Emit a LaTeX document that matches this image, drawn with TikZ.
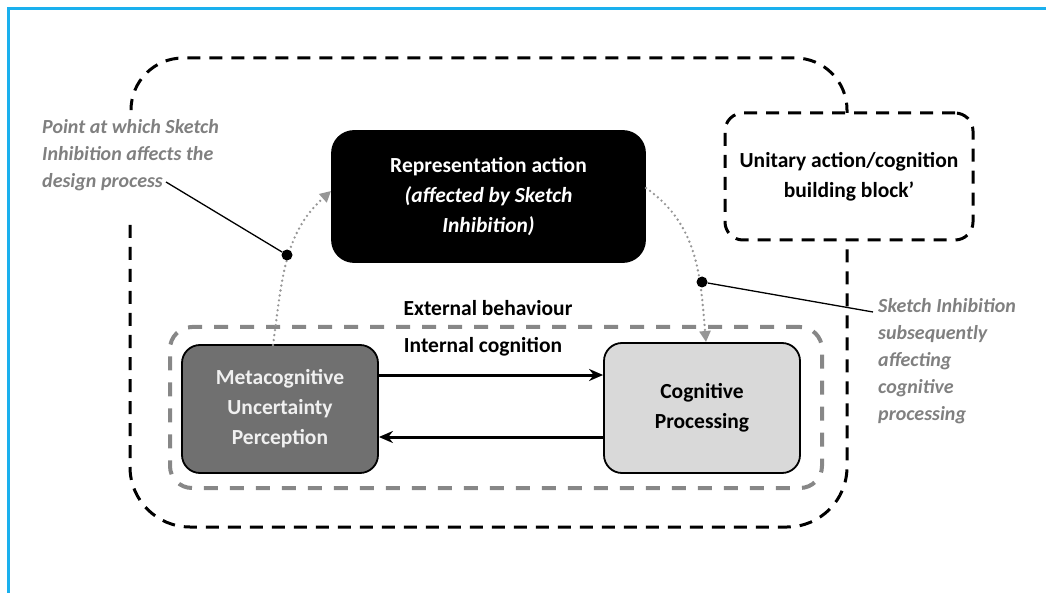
\documentclass[tikz,border=0pt]{standalone}
\usepackage{fontspec}
\setmainfont{Carlito}
\usetikzlibrary{arrows.meta}
\definecolor{framecol}{RGB}{26,176,238}
\definecolor{metafill}{RGB}{112,112,112}
\definecolor{cogfill}{RGB}{217,217,217}
\definecolor{notegray}{RGB}{128,128,128}
\definecolor{dotgray}{RGB}{150,150,150}
\definecolor{innergray}{RGB}{135,135,135}
\begin{document}
\begin{tikzpicture}[x=1pt,y=1pt,
  bodytext/.style={font=\fontsize{21.5}{30}\selectfont\bfseries, align=center},
  notetext/.style={font=\fontsize{20}{27}\selectfont\bfseries\itshape, text=notegray, align=left, inner sep=0pt},
  stepbox/.style={bodytext, draw=black, line width=1.8pt, rounded corners=18pt},
  outerdash/.style={draw=black, line width=3pt, dash pattern=on 13pt off 9pt},
  innerdash/.style={draw=innergray, line width=4pt, dash pattern=on 14pt off 12pt},
  dotflow/.style={draw=dotgray, line width=2.6pt, dash pattern=on 0pt off 5pt, line cap=round,
    -{Triangle[width=11pt,length=11pt,fill=dotgray,line cap=butt]}},
  solidflow/.style={draw=black, line width=3pt, -{Stealth[length=14pt,width=12pt]}},
  pin/.style={circle, fill=black, inner sep=0pt, minimum size=11pt},
  leader/.style={draw=black, line width=1.3pt}
]
\useasboundingbox (0,0) rectangle (1046,-593);

% frame lines along the top and left
\draw[framecol, line width=2.5pt] (8.5,-593) -- (8.5,-8.5) -- (1046,-8.5);

% outer building-block boundary (two dashed runs)
\draw[outerdash, rounded corners=52pt] (131,-108) -- (131,-58) -- (847,-58) -- (847,-113);
\draw[outerdash, rounded corners=60pt] (130,-225) -- (130,-527) -- (847,-527) -- (847,-240);

% unitary building block
\node[bodytext, outerdash, rounded corners=18pt, minimum width=248pt, minimum height=127pt]
  (unit) at (849,-176.5) {Unitary action/cognition\\building block’};

% inner cognition region
\node[innerdash, rounded corners=22pt, minimum width=652pt, minimum height=161pt] (inner) at (496,-407.5) {};

% main boxes
\node[stepbox, fill=black, text=white, rounded corners=22pt, minimum width=313pt, minimum height=131pt]
  (rep) at (488.5,-196.5) {Representation action\\{\itshape (affected by Sketch}\\{\itshape Inhibition)}};
\node[stepbox, fill=metafill, text=white!94!black, minimum width=196pt, minimum height=128pt]
  (meta) at (280,-409) {Metacognitive\\Uncertainty\\Perception};
\node[stepbox, fill=cogfill, text=black, minimum width=196pt, minimum height=130pt]
  (cog) at (702,-408) {Cognitive\\Processing};

% region labels
\node[bodytext] (ext) at (488,-308) {External behaviour};
\node[bodytext] (int) at (483,-347) {Internal cognition};

% internal loop
\draw[solidflow] ([yshift=34pt]meta.east) -- ([yshift=33pt]cog.west);
\draw[solidflow] ([yshift=-29pt]cog.west) -- ([yshift=-28pt]meta.east);

% dotted flows through the representation action
\coordinate (mtop) at (273,-345);
\coordinate (repin) at (331,-191);
\coordinate (repout) at (646,-188);
\coordinate (cogtop) at (706,-342);
\draw[dotflow] (mtop) to[out=82,in=222] (repin);
\draw[dotflow] (repout) to[out=-35,in=95] (cogtop);

% pins marking where Sketch Inhibition acts
\node[pin] (pinA) at (287,-255) {};
\node[pin] (pinB) at (702,-282) {};

% annotations
\node[notetext, anchor=north west] (noteA) at (42,-119) {Point at which Sketch\\Inhibition affects the\\design process};
\coordinate (noteAend) at (166,-182);
\draw[leader] (noteAend) -- (pinA);

\node[notetext, anchor=north west] (noteB) at (878,-298) {Sketch Inhibition\\subsequently\\affecting\\cognitive\\processing};
\coordinate (noteBstart) at (873,-312);
\draw[leader] (pinB) -- (noteBstart);
\end{tikzpicture}
\end{document}
